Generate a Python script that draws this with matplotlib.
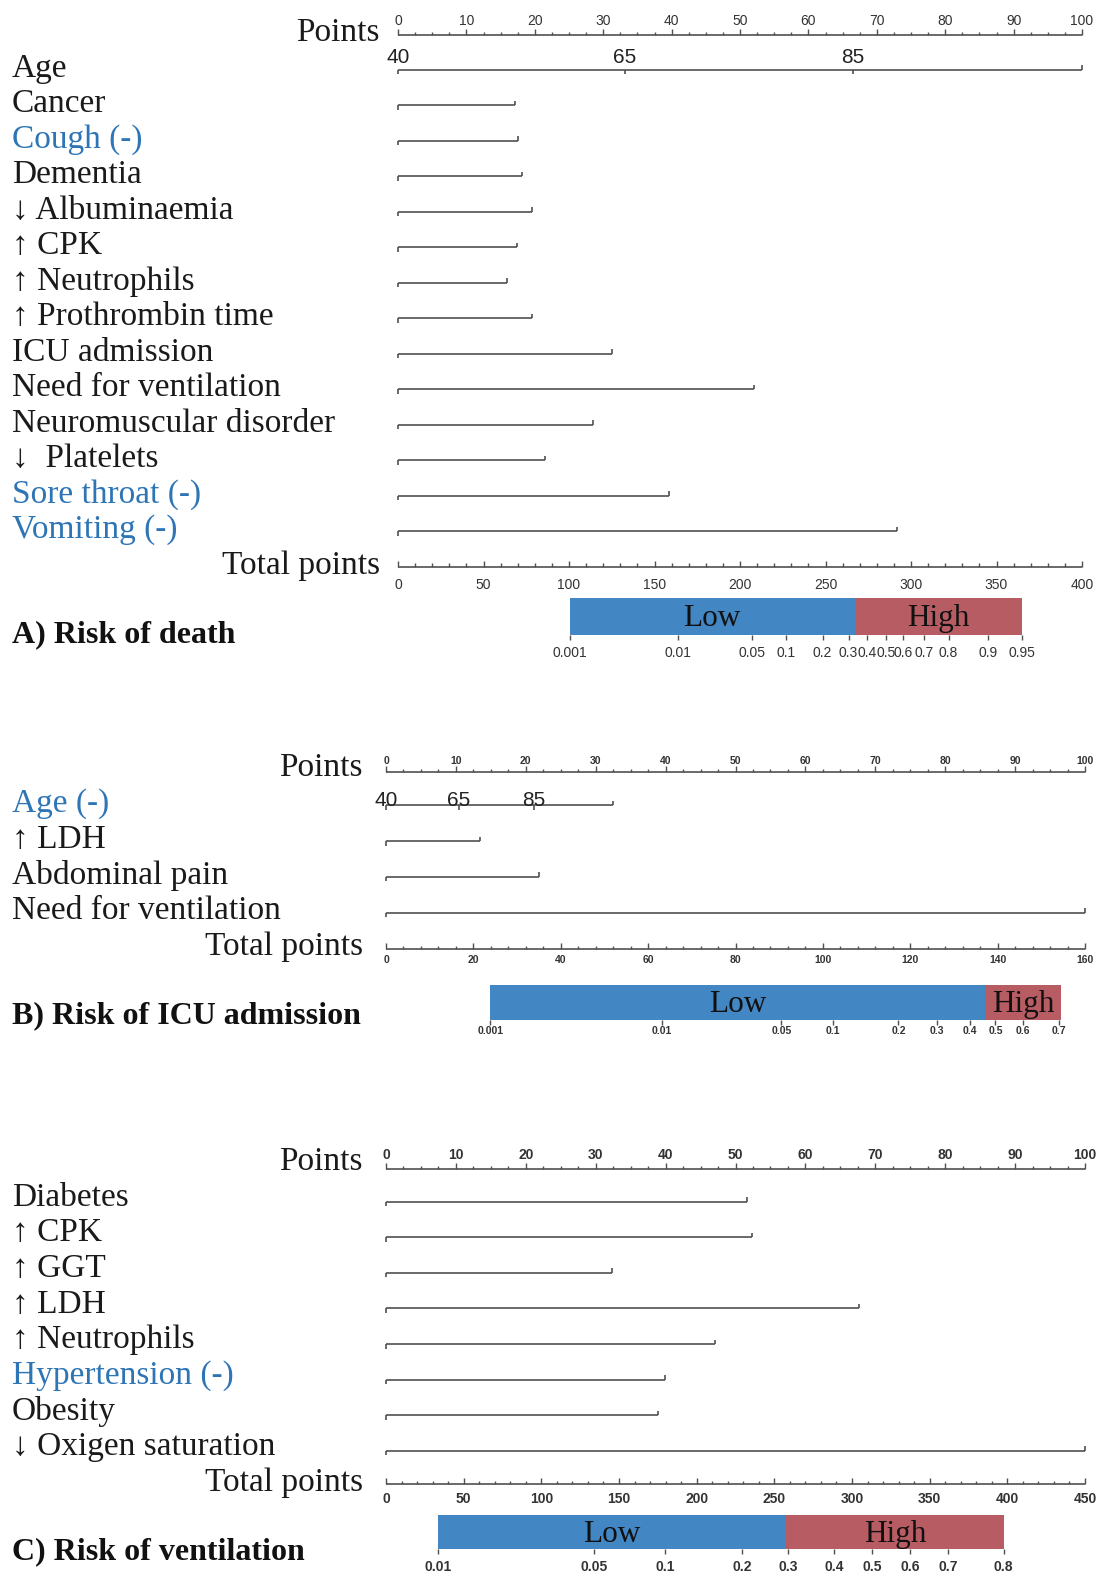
#
# Nomograms for risk of death, ICU admission and ventilation
#
import matplotlib
matplotlib.use("Agg")
import matplotlib.pyplot as plt
from matplotlib import transforms

W, H = 1101, 1576
SERIF = ["Liberation Serif", "DejaVu Serif"]
SANS = ["Liberation Sans Narrow", "Liberation Sans", "DejaVu Sans"]
BLUE_TXT = "#2e75b6"
LOW_C = "#4286c4"
HIGH_C = "#b85c63"
LINE_C = "#505050"
TXT_DY = 4.0   # px, serif labels sit a bit lower than their bbox centre

# Panel A: risk of death
##########################################################################################
A_labels = ["Age", "Cancer", "Cough (-)", "Dementia", "↓ Albuminaemia", "↑ CPK",
            "↑ Neutrophils", "↑ Prothrombin time", "ICU admission", "Need for ventilation",
            "Neuromuscular disorder", "↓  Platelets", "Sore throat (-)", "Vomiting (-)"]
A_blue = [False, False, True, False, False, False, False, False, False, False,
          False, False, True, True]
A_points = [100, 17.1, 17.5, 18.2, 19.6, 17.4, 16.0, 19.6, 31.3, 52.1, 28.5, 21.5, 39.6, 72.9]
A_age_ticks = ["40", "65", "85"]
A_age_pos = [0, 33.2, 66.5]
A_total_max = 400
A_low = (100.3, 267.3)
A_high = (267.3, 365.2)
A_probs = ["0.001", "0.01", "0.05", "0.1", "0.2", "0.3", "0.4", "0.5", "0.6", "0.7",
           "0.8", "0.9", "0.95"]
A_prob_pos = [100.3, 163.5, 206.8, 227.0, 248.3, 263.5, 274.5, 285.5, 295.5, 307.5,
              322.0, 345.0, 365.0]

# Panel B: risk of ICU admission
##########################################################################################
B_labels = ["Age (-)", "↑ LDH", "Abdominal pain", "Need for ventilation"]
B_blue = [True, False, False, False]
B_points = [32.5, 13.5, 21.9, 100]
B_age_ticks = ["40", "65", "85"]
B_age_pos = [0, 10.4, 21.2]
B_total_max = 160
B_low = (23.9, 137.1)
B_high = (137.1, 154.5)
B_probs = ["0.001", "0.01", "0.05", "0.1", "0.2", "0.3", "0.4", "0.5", "0.6", "0.7"]
B_prob_pos = [23.9, 63.1, 90.5, 102.4, 117.3, 126.1, 133.6, 139.5, 145.7, 154.0]

# Panel C: risk of ventilation
##########################################################################################
C_labels = ["Diabetes", "↑ CPK", "↑ GGT", "↑ LDH", "↑ Neutrophils", "Hypertension (-)",
            "Obesity", "↓ Oxigen saturation"]
C_blue = [False, False, False, False, False, True, False, False]
C_points = [51.7, 52.4, 32.4, 67.6, 47.1, 39.9, 38.9, 100]
C_total_max = 450
C_low = (33.5, 257.4)
C_high = (257.4, 397.8)
C_probs = ["0.01", "0.05", "0.1", "0.2", "0.3", "0.4", "0.5", "0.6", "0.7", "0.8"]
C_prob_pos = [33.3, 134.1, 179.7, 229.0, 259.0, 288.4, 313.1, 337.4, 362.0, 397.6]


fig = plt.figure(figsize=(W / 100, H / 100), dpi=100)


def make_axes(x0, x1, row0, step, rtop, rbot):
    top = row0 + rtop * step
    bot = row0 + rbot * step
    ax = fig.add_axes([x0 / W, 1 - bot / H, (x1 - x0) / W, (bot - top) / H])
    ax.set_xlim(0, 100)
    ax.set_ylim(rbot, rtop)
    ax.axis("off")
    return ax


def hline(ax, x0, x1, y):
    ax.plot([x0, x1], [y, y], color=LINE_C, lw=1.2, solid_capstyle="butt", clip_on=False)


def vline(ax, x, y0, y1, lw=1.2):
    ax.plot([x, x], [y0, y1], color=LINE_C, lw=lw, solid_capstyle="butt", clip_on=False)


def draw_scale(ax, y, vmax, major, minor, step, lab_dy, fs, weight):
    k = 100.0 / vmax
    hline(ax, 0, 100, y)
    n = int(round(vmax / minor))
    for i in range(n + 1):
        v = i * minor
        is_major = abs(v / major - round(v / major)) < 1e-6
        L = (6 if is_major else 3.5) / step
        vline(ax, v * k, y, y - L, lw=1.0)
        if is_major:
            ax.text(v * k, y - lab_dy / step, f"{v:g}", ha="center", va="center",
                    fontsize=fs, family=SANS, weight=weight, color="#333333")


def draw_panel(ax, labels, blue, points, age_ticks, age_pos, total_max, total_major,
               total_minor, low, high, probs, prob_pos, title, step, lay):
    trans = transforms.blended_transform_factory(fig.transFigure, ax.transData)
    n = len(labels)
    tick = 4.5 / step
    dy = TXT_DY / step

    # Points scale
    ax.text(lay["right"] / W, dy, "Points", transform=trans, ha="right", va="center",
            fontsize=24, family=SERIF, color="#1a1a1a")
    draw_scale(ax, lay["pts_line"] / step, 100, 10, 2.5, step, lay["pts_lab"],
               lay["tick_fs"], lay["tick_w"])

    # variables
    for i, (lab, b, p) in enumerate(zip(labels, blue, points)):
        r = i + 1
        ax.text(12 / W, r + dy, lab, transform=trans, ha="left", va="center", fontsize=24,
                family=SERIF, color=BLUE_TXT if b else "#1a1a1a")
        y = r + lay["var_line"] / step
        hline(ax, 0, p, y)
        vline(ax, 0, y, y + tick)
        vline(ax, p, y, y - tick)
        if age_ticks is not None and i == 0:
            for t, pos in zip(age_ticks, age_pos):
                if pos > 0:
                    vline(ax, pos, y, y + tick)
                ax.text(pos, y - lay["age_lab"] / step, t, ha="center", va="center",
                        fontsize=lay["age_fs"], family=SANS, color="#222222")

    # Total points scale
    r = n + 1
    ax.text(lay["right"] / W, r + dy, "Total points", transform=trans, ha="right",
            va="center", fontsize=24, family=SERIF, color="#1a1a1a")
    draw_scale(ax, r + lay["tot_line"] / step, total_max, total_major, total_minor, step,
               -lay["tot_lab"], lay["tick_fs"], lay["tick_w"])

    # risk bar
    k = 100.0 / total_max
    yc = lay["bar_c"]
    h = lay["bar_h"] / step
    ax.barh(yc, (low[1] - low[0]) * k, left=low[0] * k, height=h, color=LOW_C, lw=0)
    ax.barh(yc, (high[1] - high[0]) * k, left=high[0] * k, height=h, color=HIGH_C, lw=0)
    ax.text((low[0] + low[1]) / 2 * k, yc + 2 / step, "Low", ha="center", va="center",
            fontsize=22.5, family=SERIF, color="#111111")
    ax.text((high[0] + high[1]) / 2 * k, yc + 2 / step, "High", ha="center", va="center",
            fontsize=22.5, family=SERIF, color="#111111")
    yb = yc + h / 2
    for p, pos in zip(probs, prob_pos):
        vline(ax, pos * k, yb, yb + 5 / step, lw=1.0)
        ax.text(pos * k, yb + lay["prob_lab"] / step, p, ha="center", va="center",
                fontsize=lay["prob_fs"], family=SANS, weight=lay["tick_w"], color="#333333")

    ax.text(12 / W, lay["title"] + dy, title, transform=trans, ha="left", va="center",
            fontsize=23, family=SERIF, weight="bold", color="#111111")


# Panel A
step_a = 35.5
ax_a = make_axes(398, 1082, 29.0, step_a, -0.8, 18.2)
draw_panel(ax_a, A_labels, A_blue, A_points, A_age_ticks, A_age_pos, A_total_max, 50, 10,
           A_low, A_high, A_probs, A_prob_pos, "A) Risk of death", step_a,
           dict(right=380, pts_line=6, pts_lab=14, var_line=5, age_lab=12, age_fs=15,
                tot_line=5, tot_lab=18, bar_c=16.56, bar_h=37, prob_lab=18,
                tick_fs=10, tick_w="normal", prob_fs=10, title=16.95))

# Panel B
step_b = 35.8
ax_b = make_axes(386, 1085, 764, step_b, -0.8, 7.6)
draw_panel(ax_b, B_labels, B_blue, B_points, B_age_ticks, B_age_pos, B_total_max, 20, 4,
           B_low, B_high, B_probs, B_prob_pos, "B) Risk of ICU admission", step_b,
           dict(right=363, pts_line=8, pts_lab=11, var_line=5.5, age_lab=5, age_fs=15,
                tot_line=6, tot_lab=11, bar_c=6.66, bar_h=35, prob_lab=11,
                tick_fs=7.5, tick_w="bold", prob_fs=7.5, title=6.93))

# Panel C
step_c = 35.6
ax_c = make_axes(386, 1085, 1158, step_c, -0.8, 11.8)
draw_panel(ax_c, C_labels, C_blue, C_points, None, None, C_total_max, 50, 10,
           C_low, C_high, C_probs, C_prob_pos, "C) Risk of ventilation", step_c,
           dict(right=363, pts_line=11, pts_lab=14, var_line=8, age_lab=0, age_fs=15,
                tot_line=6, tot_lab=15, bar_c=10.51, bar_h=34, prob_lab=18,
                tick_fs=10, tick_w="bold", prob_fs=10, title=10.96))

fig.savefig("out.png", dpi=100, facecolor="white")
